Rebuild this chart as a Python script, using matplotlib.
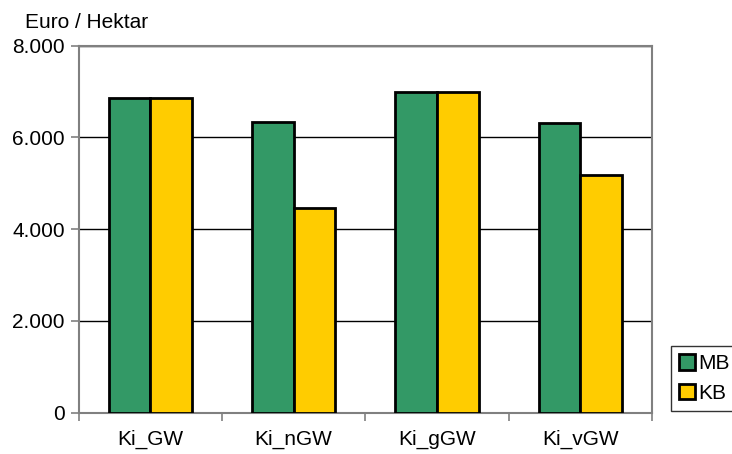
import matplotlib
matplotlib.use('Agg')
from matplotlib import pyplot as plt
import numpy as np

categories = ['Ki_GW', 'Ki_nGW', 'Ki_gGW', 'Ki_vGW']
mb_values = [6870, 6330, 7000, 6320]
kb_values = [6870, 4460, 7000, 5190]
series_names = ['MB', 'KB']
y_ticks = [0, 2000, 4000, 6000, 8000]
y_tick_labels = ['0', '2.000', '4.000', '6.000', '8.000']

plt.rcParams['font.family'] = ['Liberation Sans', 'DejaVu Sans']
plt.rcParams['font.size'] = 15

fig = plt.figure(figsize=(7.32, 4.54), dpi=100)
ax = fig.add_axes([0.1075, 0.091, 0.7832, 0.8083])

x = np.arange(len(categories))
w = 0.29
ax.bar(x - w / 2, mb_values, w, color='#339966', edgecolor='black', linewidth=2, label=series_names[0], zorder=3)
ax.bar(x + w / 2, kb_values, w, color='#FFCC00', edgecolor='black', linewidth=2, label=series_names[1], zorder=3)

ax.set_xlim(-0.5, len(categories) - 0.5)
ax.set_ylim(0, 8000)
ax.set_yticks(y_ticks)
ax.set_yticklabels(y_tick_labels)
ax.set_xticks(x)
ax.set_xticklabels(categories)
ax.tick_params(axis='x', length=0, pad=12)
ax.set_xticks(np.arange(-0.5, len(categories)), minor=True)
ax.tick_params(axis='x', which='minor', length=6, color='#808080', width=1.2)
ax.tick_params(axis='y', length=6, color='#808080', width=1.2, pad=4)

for yv in y_ticks[1:]:
    ax.axhline(yv, color='black', linewidth=1, zorder=1)

for s in ax.spines.values():
    s.set_color('#808080')
    s.set_linewidth(1.5)

fig.text(25 / 732, 1 - 22 / 454, 'Euro / Hektar', va='center', ha='left', fontsize=15)

leg = fig.legend(loc='upper left', bbox_to_anchor=(671 / 732, 1 - 346 / 454),
                 frameon=True, fancybox=False, handlelength=0.75, handleheight=0.75,
                 handletextpad=0.15, borderpad=0.4, labelspacing=0.5, borderaxespad=0)
leg.get_frame().set_edgecolor('black')
leg.get_frame().set_linewidth(1)

fig.savefig('out.png', dpi=100)
